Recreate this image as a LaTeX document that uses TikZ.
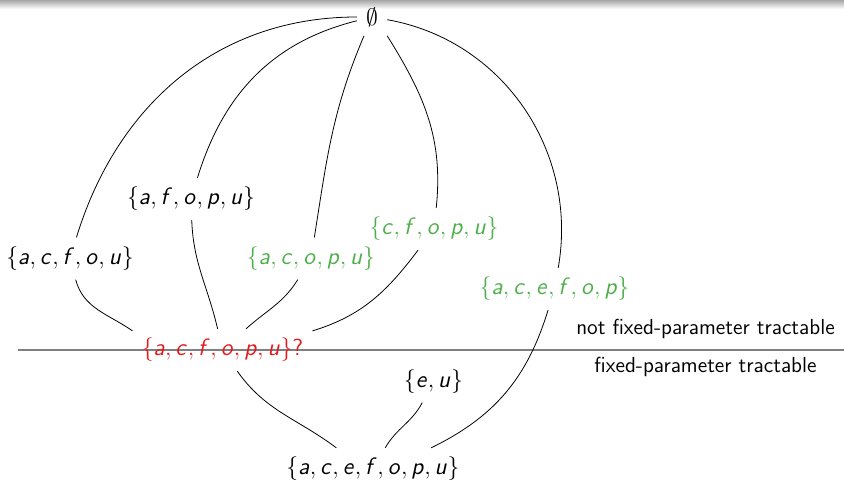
\documentclass[tikz,border=0pt]{standalone}
% sans italic letters in math, as on a slide
\DeclareSymbolFont{sfletters}{OT1}{cmss}{m}{sl}
\DeclareMathSymbol{a}{\mathalpha}{sfletters}{`a}
\DeclareMathSymbol{c}{\mathalpha}{sfletters}{`c}
\DeclareMathSymbol{e}{\mathalpha}{sfletters}{`e}
\DeclareMathSymbol{f}{\mathalpha}{sfletters}{`f}
\DeclareMathSymbol{o}{\mathalpha}{sfletters}{`o}
\DeclareMathSymbol{p}{\mathalpha}{sfletters}{`p}
\DeclareMathSymbol{u}{\mathalpha}{sfletters}{`u}
\definecolor{setgreen}{HTML}{4DAF4A}
\definecolor{setred}{HTML}{E41A1C}
\begin{document}
\begin{tikzpicture}[x=0.506pt, y=0.506pt,
    set/.style={inner sep=4.5pt, font=\fontsize{11.8}{14}\selectfont\sffamily},
    label/.style={font=\fontsize{11}{13}\selectfont\sffamily}]
    \useasboundingbox (0,0) rectangle (844,481);
    % Shadow at the top
    \shade[top color=gray!70, bottom color=white] (0,472) rectangle (844,481);

    % Draw dividing line
    \coordinate (lineL) at (18,131);
    \coordinate (lineR) at (844,131);
    \draw[gray, line width=0.7pt] (lineL) -- (lineR);

    % Sets
    \node[set] (empty) at (372,464) {$\emptyset$};
    \node[set] (afopu) at (191,282) {$\{a,f,o,p,u\}$};
    \node[set] (acfou) at (70,222.5) {$\{a,c,f,o,u\}$};
    \node[set, text=setgreen] (acopu) at (311,222.5) {$\{a,c,o,p,u\}$};
    \node[set, text=setgreen] (cfopu) at (434,252) {$\{c,f,o,p,u\}$};
    \node[set, text=setgreen] (acefop) at (554.5,192) {$\{a,c,e,f,o,p\}$};
    \node[set, text=setred] (acfopu) at (222.5,131) {$\{a,c,f,o,p,u\}$?};
    \node[set] (eu) at (433.5,99.5) {$\{e,u\}$};
    \node[set] (all) at (373,12) {$\{a,c,e,f,o,p,u\}$};

    % Label regions
    \node[label] (nfpt) at (705.5,152) {not fixed-parameter tractable};
    \node[label] (fpt) at (705.5,114) {fixed-parameter tractable};

    % Draw curves
    \draw (empty) to[out=180, in=73] (acfou);
    \draw (empty) to[out=194, in=73] (afopu);
    \draw (empty) to[out=-113, in=81] (acopu);
    \draw (empty.south east) to[out=-58, in=84] (cfopu);
    \draw (empty) to[out=-10, in=80] (acefop);
    \draw (acfou) to[out=-75, in=145] (acfopu.168);
    \draw (afopu) to[out=-88, in=103] (acfopu);
    \draw (acopu) to[out=238, in=42] (acfopu);
    \draw (cfopu) to[out=233, in=17] (acfopu.12);
    \draw (acfopu) to[out=-55, in=143] (all.150);
    \draw (eu) to[out=-118, in=60] (all);
    \draw (acefop) to[out=-107, in=26] (all.20);

\end{tikzpicture}
\end{document}
